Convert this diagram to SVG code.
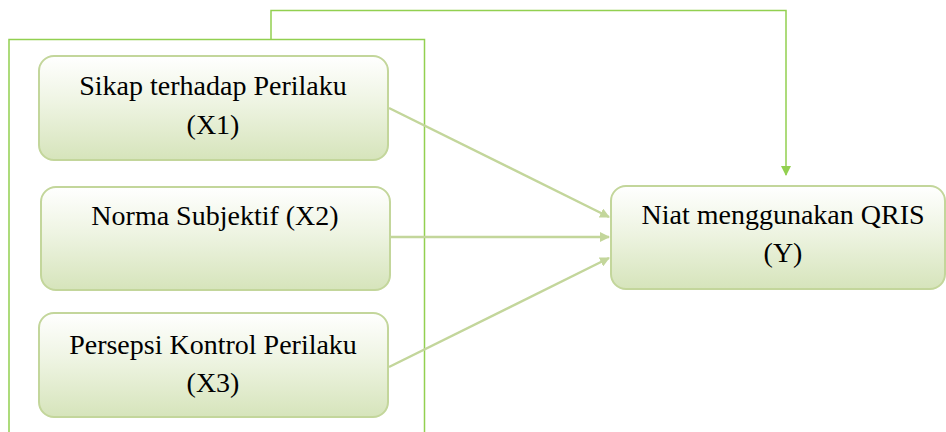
<svg xmlns="http://www.w3.org/2000/svg" width="946" height="432" viewBox="0 0 946 432">
<defs>
<linearGradient id="g" x1="0" y1="0" x2="0" y2="1">
<stop offset="0" stop-color="#ffffff"/>
<stop offset="0.45" stop-color="#eef4e2"/>
<stop offset="1" stop-color="#d6e4bb"/>
</linearGradient>
<marker id="ah" markerWidth="10" markerHeight="10" refX="9" refY="5" orient="auto" markerUnits="userSpaceOnUse" viewBox="0 0 10 10">
<path d="M0,0 L10,5 L0,10 z" fill="#c3d69b"/>
</marker>
<marker id="ah2" markerWidth="10" markerHeight="10" refX="9" refY="5" orient="auto" markerUnits="userSpaceOnUse" viewBox="0 0 10 10">
<path d="M0,0 L10,5 L0,10 z" fill="#92d050"/>
</marker>
</defs>
<style>
.node rect{fill:url(#g);stroke:#c3d69b;stroke-width:2}
.node text{font-family:'Liberation Serif','Times New Roman',serif;font-size:28px;fill:#000;text-anchor:middle}
.conn{fill:none;stroke:#c3d69b;stroke-width:2.5}
.frame{fill:none;stroke:#92d050;stroke-width:1.5}
</style>
<g id="frame">
<path class="frame" d="M9,432 V39.5 H424.5 V432"/>
</g>
<g id="connectors">
<path class="frame" d="M271,39.5 V10.5 H786 V175" marker-end="url(#ah2)"/>
<line class="conn" x1="389" y1="108" x2="609" y2="217" marker-end="url(#ah)"/>
<line class="conn" x1="390" y1="237" x2="609" y2="237" marker-end="url(#ah)"/>
<line class="conn" x1="389" y1="367" x2="609" y2="258" marker-end="url(#ah)"/>
</g>
<g id="x1" class="node">
<rect x="39" y="56" width="349" height="104" rx="15"/>
<text x="213" y="95">Sikap terhadap Perilaku</text>
<text x="213" y="134">(X1)</text>
</g>
<g id="x2" class="node">
<rect x="41" y="187" width="349" height="103" rx="15"/>
<text x="215" y="225">Norma Subjektif (X2)</text>
</g>
<g id="x3" class="node">
<rect x="39" y="313" width="349" height="104" rx="15"/>
<text x="213" y="354">Persepsi Kontrol Perilaku</text>
<text x="213" y="392">(X3)</text>
</g>
<g id="y" class="node">
<rect x="611" y="186" width="334" height="103" rx="15"/>
<text x="783" y="224">Niat menggunakan QRIS</text>
<text x="783" y="262">(Y)</text>
</g>
</svg>
